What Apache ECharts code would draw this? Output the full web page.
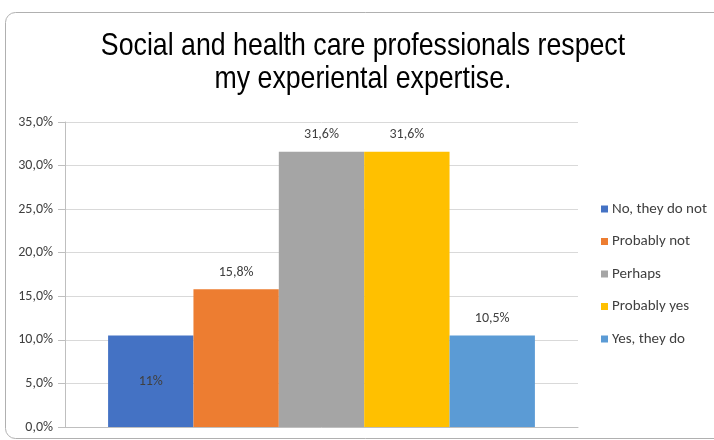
<!DOCTYPE html>
<html><head><meta charset="utf-8">
<script src="https://cdn.jsdelivr.net/npm/echarts@6/dist/echarts.min.js"></script>
<style>html,body{margin:0;padding:0;background:#fff}#c{width:714px;height:440px}</style>
</head><body><div id="c"></div>
<script>
const titleLines = ["Social and health care professionals respect", "my experiental expertise."];
const seriesNames = ["No, they do not", "Probably not", "Perhaps", "Probably yes", "Yes, they do"];
const values = [10.5, 15.8, 31.6, 31.6, 10.5];
const labelTexts = ["11%", "15,8%", "31,6%", "31,6%", "10,5%"];
const labelInside = [true, false, false, false, false];
const colors = ["#4472C4", "#ED7D31", "#A5A5A5", "#FFC000", "#5B9BD5"];
const yTicks = [0, 5, 10, 15, 20, 25, 30, 35];

const chart = echarts.init(document.getElementById('c'), null, {renderer: 'canvas'});
const labelFont = "Carlito, Lato, sans-serif";
const titleFont = "'Liberation Sans', Arial, sans-serif";
chart.setOption({
  animation: false,
  graphic: [
    {type: 'rect', shape: {x: 5.5, y: 12.5, width: 740, height: 426, r: 10}, style: {fill: 'none', stroke: '#b0b0b0', lineWidth: 1}, silent: true, z: -1},
    {type: 'text', x: 363, y: 47, scaleX: 0.876, silent: true,
      style: {text: titleLines[0], textAlign: 'center', textVerticalAlign: 'middle', verticalAlign: 'middle', fontFamily: titleFont, fontSize: 30.5, fill: '#000'}},
    {type: 'text', x: 363, y: 80, scaleX: 0.876, silent: true,
      style: {text: titleLines[1], textAlign: 'center', textVerticalAlign: 'middle', verticalAlign: 'middle', fontFamily: titleFont, fontSize: 30.5, fill: '#000'}}
  ],
  legend: {
    orient: 'vertical', left: 601, top: 201, padding: 0,
    itemWidth: 7, itemHeight: 7, itemGap: 16.5, icon: 'rect',
    textStyle: {fontFamily: labelFont, fontSize: 15, color: '#404040', lineHeight: 16, padding: [0, 0, 0, -1]},
    data: seriesNames
  },
  grid: {left: 65, right: 136, top: 122, bottom: 13, containLabel: false},
  xAxis: {
    type: 'category', data: [''],
    axisLine: {show: true, lineStyle: {color: '#bfbfbf'}},
    axisTick: {show: false}, axisLabel: {show: false}
  },
  yAxis: {
    type: 'value', min: yTicks[0], max: yTicks[yTicks.length - 1], interval: 5,
    axisLine: {show: true, lineStyle: {color: '#bfbfbf'}},
    axisTick: {show: true, inside: false, length: 7, lineStyle: {color: '#bfbfbf'}},
    splitLine: {show: true, lineStyle: {color: '#d9d9d9'}},
    axisLabel: {margin: 12, fontFamily: labelFont, fontSize: 14, color: '#404040',
      formatter: v => v.toFixed(1).replace('.', ',') + '%'}
  },
  series: seriesNames.map((n, i) => ({
    name: n, type: 'bar', data: [values[i]],
    barGap: '0%', barCategoryGap: '16.8%',
    itemStyle: {color: colors[i]},
    label: {show: true, position: labelInside[i] ? 'inside' : 'top', distance: 10,
      formatter: () => labelTexts[i], fontFamily: labelFont, fontSize: 14, color: '#404040'}
  }))
});
</script></body></html>
